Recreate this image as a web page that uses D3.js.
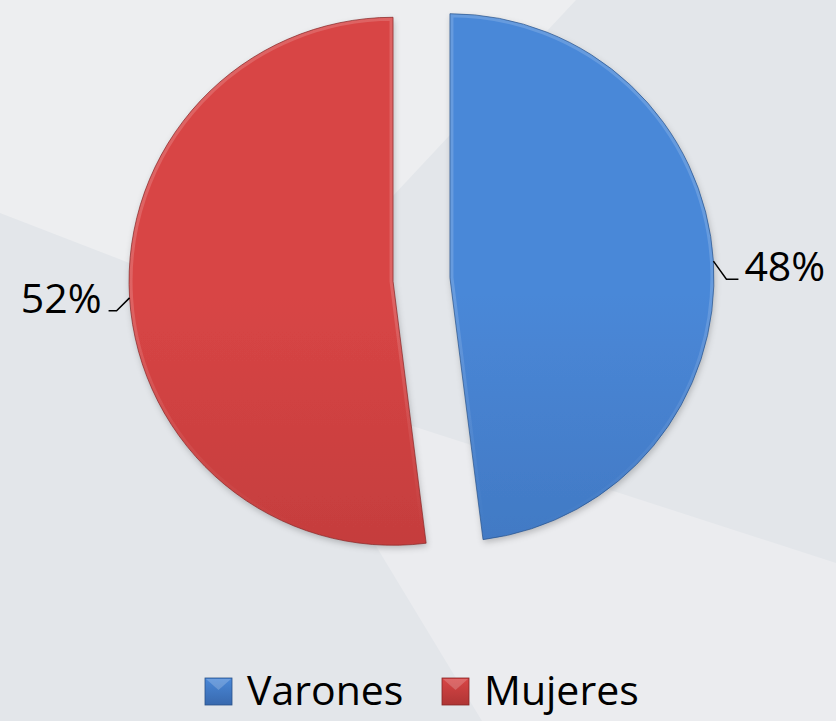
<!DOCTYPE html>
<html>
<head>
<meta charset="utf-8">
<script src="https://cdn.jsdelivr.net/npm/d3@7/dist/d3.min.js"></script>
<style>
html,body{margin:0;padding:0;background:#E3E6EA;}
svg{display:block;}
</style>
</head>
<body>
<script>
// ---- data ----
const categories = ["Varones", "Mujeres"];
const values = [48, 52];
const labels = values.map(v => v + "%");

// ---- styles ----
const topColors = ["#4A88D8", "#D84545"];
const bottomColors = ["#3869AE", "#AF3535"];
const edgeColors = ["#2A5289", "#852626"];

const W = 836, H = 721;
const cx = 421.5, cy = 279.5, R = 264, E = 28.5;
const font = "'Open Sans', 'DejaVu Sans', sans-serif";

const svg = d3.select("body").append("svg").attr("width", W).attr("height", H);
const defs = svg.append("defs");

// background
svg.append("rect").attr("width", W).attr("height", H).attr("fill", "#E3E6EA");
svg.append("polygon").attr("points", "0,0 576,0 277,320 0,213").attr("fill", "#EDEEF0");
svg.append("polygon").attr("points", "330,470 400,422 836,563 836,721 482,721").attr("fill", "#EBECEF");

// filters
const sh = defs.append("filter").attr("id", "shadow").attr("x", "-10%").attr("y", "-10%").attr("width", "120%").attr("height", "120%");
sh.append("feDropShadow").attr("dx", 1).attr("dy", 3).attr("stdDeviation", 3)
  .attr("flood-color", "#000").attr("flood-opacity", 0.22);

categories.forEach((c, i) => {
  const g = defs.append("linearGradient").attr("id", "grad" + i)
    .attr("gradientUnits", "userSpaceOnUse")
    .attr("x1", 0).attr("y1", cy - R).attr("x2", 0).attr("y2", cy + R);
  g.append("stop").attr("offset", "0%").attr("stop-color", topColors[i]);
  g.append("stop").attr("offset", "100%").attr("stop-color", bottomColors[i]);
  const lg = defs.append("linearGradient").attr("id", "lgrad" + i)
    .attr("x1", 0).attr("y1", 0).attr("x2", 0).attr("y2", 1);
  lg.append("stop").attr("offset", "0%").attr("stop-color", topColors[i]);
  lg.append("stop").attr("offset", "100%").attr("stop-color", bottomColors[i]);
});
const bev = defs.append("linearGradient").attr("id", "bevel")
  .attr("gradientUnits", "userSpaceOnUse")
  .attr("x1", 0).attr("y1", cy - R).attr("x2", 0).attr("y2", cy + R);
bev.append("stop").attr("offset", "0%").attr("stop-color", "#fff").attr("stop-opacity", 0.16);
bev.append("stop").attr("offset", "45%").attr("stop-color", "#fff").attr("stop-opacity", 0.0);
bev.append("stop").attr("offset", "100%").attr("stop-color", "#000").attr("stop-opacity", 0.14);

// pie
const pie = d3.pie().sort(null).value(d => d)(values);
const arc = d3.arc().innerRadius(0).outerRadius(R);

const g = svg.append("g").attr("transform", `translate(${cx},${cy})`);
pie.forEach((d, i) => {
  const mid = (d.startAngle + d.endAngle) / 2;
  const ox = Math.sin(mid) * E, oy = -Math.cos(mid) * E;
  const sg = g.append("g").attr("transform", `translate(${ox},${oy})`);
  defs.append("clipPath").attr("id", "clip" + i)
    .append("path").attr("d", arc(d));
  sg.append("path").attr("d", arc(d))
    .attr("fill", `url(#grad${i})`).attr("filter", "url(#shadow)");
  sg.append("path").attr("d", arc(d))
    .attr("fill", "none").attr("stroke", "url(#bevel)").attr("stroke-width", 7)
    .attr("clip-path", `url(#clip${i})`);
  sg.append("path").attr("d", arc(d))
    .attr("fill", "none").attr("stroke", edgeColors[i]).attr("stroke-width", 1)
    .attr("stroke-opacity", 0.7);

  // leader + label
  const px = ox + Math.sin(mid) * R, py = oy - Math.cos(mid) * R;
  const right = Math.sin(mid) > 0;
  let pts, tx, ty, anchor;
  if (right) {
    pts = [[px, py], [px + 13, py + 18], [px + 25, py + 18]];
    tx = px + 31; ty = py + 20; anchor = "start";
  } else {
    pts = [[px, py], [px - 13, py + 13], [px - 21, py + 13]];
    tx = px - 28; ty = py + 15; anchor = "end";
  }
  g.append("path").attr("d", d3.line()(pts))
    .attr("fill", "none").attr("stroke", "#000").attr("stroke-width", 1.5);
  g.append("text").attr("x", tx).attr("y", ty).attr("text-anchor", anchor)
    .attr("font-family", font).attr("font-size", 41).attr("fill", "#000")
    .text(labels[i]);
});

// legend
const legendX = [205, 442];
const lg = svg.append("g");
categories.forEach((c, i) => {
  lg.append("rect").attr("x", legendX[i]).attr("y", 678).attr("width", 27).attr("height", 27)
    .attr("fill", `url(#lgrad${i})`).attr("stroke", edgeColors[i]).attr("stroke-width", 0.8);
  lg.append("polygon")
    .attr("points", `${legendX[i]+1},679 ${legendX[i]+26},679 ${legendX[i]+13.5},690`)
    .attr("fill", "#fff").attr("fill-opacity", 0.2);
  lg.append("text").attr("x", legendX[i] + 42).attr("y", 705)
    .attr("font-family", font).attr("font-size", 41).attr("fill", "#000")
    .text(c);
});
</script>
</body>
</html>
